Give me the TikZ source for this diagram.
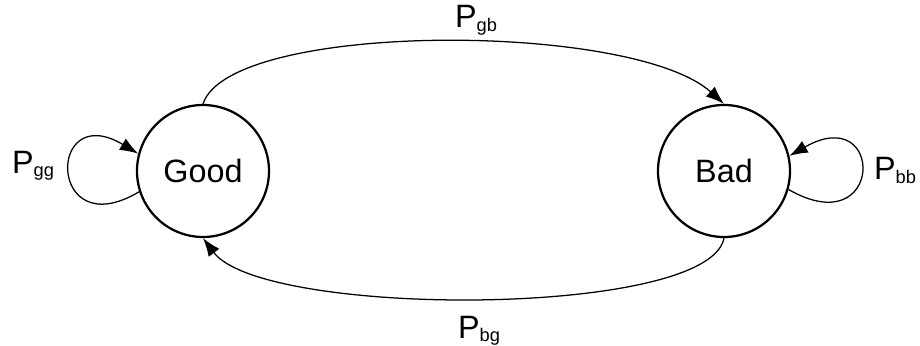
\documentclass[tikz,border=0pt]{standalone}
\usepackage{fontspec}
\setmainfont{Liberation Sans}
\usetikzlibrary{arrows.meta,positioning}
\newcommand{\prob}[1]{P\raisebox{-2.5pt}{\fontsize{13}{13}\selectfont #1}}

\begin{document}
\begin{tikzpicture}[x=1cm,y=1cm,>={Latex[length=13pt,width=9.5pt]},
  state/.style={circle,draw,line width=1.6pt,minimum size=3.3cm,inner sep=0pt},
  trans/.style={->,line width=0.9pt},
  font=\fontsize{23}{27}\selectfont]
\useasboundingbox (0,0) rectangle (23,8.625);
\node[state] (good) at (5.075,4.35) {Good};
\node[state] (bad) at (18.1,4.35) {Bad};
% transitions between the two states
\draw[trans] (good.north) .. controls +(0.675,2.07) and +(-2.3,2.07) .. (bad.north);
\draw[trans] (bad.south) .. controls +(-0.375,-2.0) and +(1.5,-2.0) .. (good.south);
% self loops
\draw[trans] (good.198) .. controls +(-2.3,-1.375) and +(-2.3,1.375) .. (good.165);
\draw[trans] (bad.344) .. controls +(2.4,-1.375) and +(2.4,1.375) .. (bad.13);
\node[anchor=base] (pgb) at (11.9,7.925) {\prob{gb}};
\node[anchor=base] (pbg) at (11.975,0.175) {\prob{bg}};
\node[anchor=base] (pgg) at (0.825,4.3) {\prob{gg}};
\node[anchor=base] (pbb) at (22.375,4.125) {\prob{bb}};
\end{tikzpicture}
\end{document}
